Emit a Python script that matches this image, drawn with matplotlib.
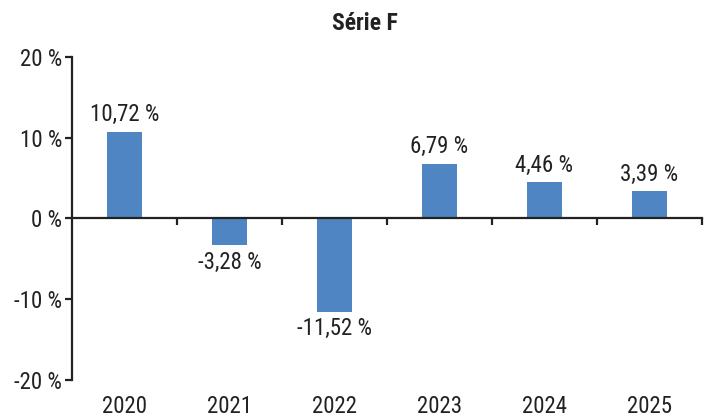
import matplotlib
matplotlib.use('Agg')
import matplotlib.pyplot as plt
import matplotlib.transforms as mtransforms

plt.rcParams['font.family'] = ['Roboto Condensed', 'Liberation Sans', 'DejaVu Sans']

years = ['2020', '2021', '2022', '2023', '2024', '2025']
values = [10.72, -3.28, -11.52, 6.79, 4.46, 3.39]
yticks = [-20, -10, 0, 10, 20]
fontsize = 16.5
ink = '#222222'

fig = plt.figure(figsize=(7.1, 4.19), dpi=100)
ax = fig.add_axes([0.1014, 0.0931, 0.8873, 0.7709])

x = list(range(len(years)))
ax.bar(x, values, width=0.34, color='#4F85C2', zorder=2)

ax.set_xlim(-0.5, len(years) - 0.5)
ax.set_ylim(-20, 20)

for s in ['top', 'right']:
    ax.spines[s].set_visible(False)
ax.spines['bottom'].set_position(('data', 0))
for s in ['left', 'bottom']:
    ax.spines[s].set_linewidth(1.6)
    ax.spines[s].set_color(ink)

ax.set_yticks(yticks)
ax.set_yticklabels([f'{v} %' for v in yticks], fontsize=fontsize, color=ink)
ax.tick_params(axis='y', direction='out', length=5, width=1.6, color=ink, pad=2)

# ticks on the zero line sit between the categories
ax.set_xticks([i + 0.5 for i in x])
ax.set_xticklabels([])
ax.tick_params(axis='x', direction='out', length=5, width=1.6, color=ink)

# year labels at the bottom of the plot
trans = mtransforms.blended_transform_factory(ax.transData, ax.transAxes)
for i, yr in enumerate(years):
    ax.text(i, -0.045, yr, transform=trans, ha='center', va='top', fontsize=fontsize, color=ink)

for i, v in enumerate(values):
    lbl = f'{v:.2f}'.replace('.', ',') + ' %'
    if v >= 0:
        ax.annotate(lbl, (i, v), xytext=(0, 4), textcoords='offset points', ha='center', va='bottom',
                    fontsize=fontsize, color=ink)
    else:
        ax.annotate(lbl, (i, v), xytext=(0, -4), textcoords='offset points', ha='center', va='top',
                    fontsize=fontsize, color=ink)

fig.text(0.514, 0.945, 'Série F', ha='center', va='center', fontsize=17, fontweight='bold', color=ink)

fig.savefig('out.png', dpi=100)
